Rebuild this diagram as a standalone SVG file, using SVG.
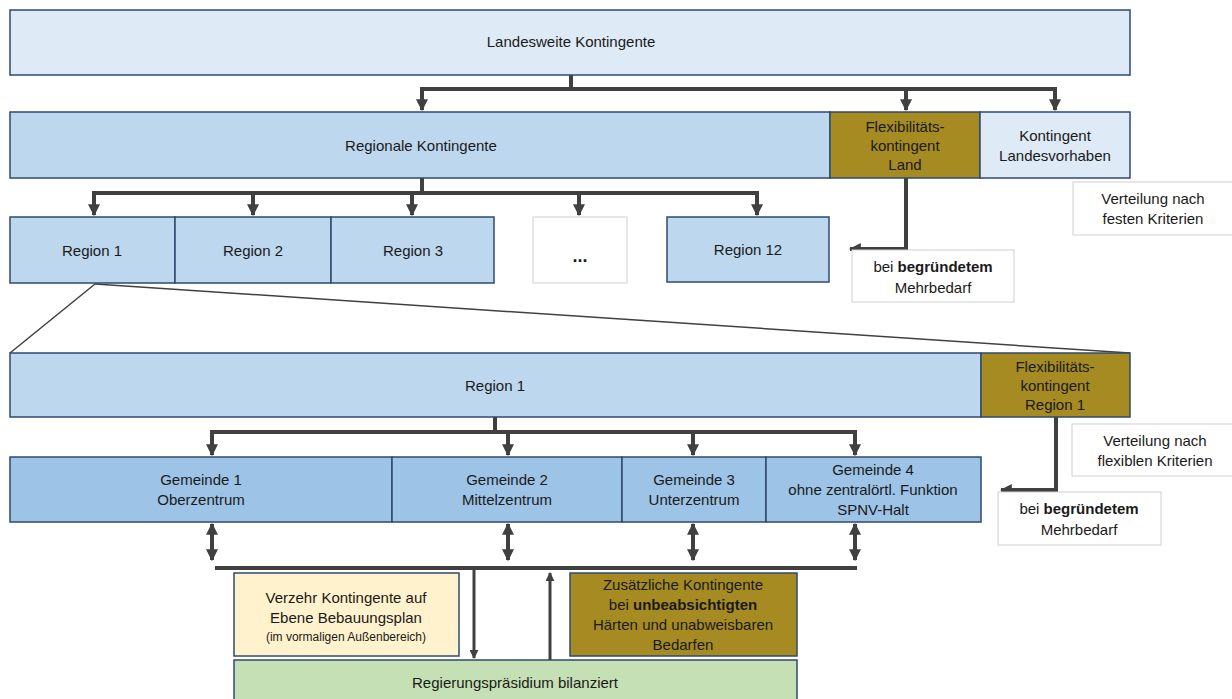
<svg xmlns="http://www.w3.org/2000/svg" width="1232" height="699" viewBox="0 0 1232 699">
<defs>
<style>
text{font-family:"Liberation Sans",Arial,sans-serif;font-size:15px;fill:#1a1a1a;text-anchor:middle}
.b{stroke:#2F4A6E;stroke-width:1.5}
.l1{fill:#DEEAF6}
.l2{fill:#BDD7EE}
.l3{fill:#9DC3E6}
.ol{fill:#A58B22}
.note{fill:#fff;stroke:#D0D0D0;stroke-width:1}
.c{fill:none;stroke:#404040;stroke-width:4}
.t{fill:none;stroke:#404040;stroke-width:1.5}
.sm{font-size:12px}
.bd{font-weight:bold}
</style>
<marker id="ah" viewBox="0 0 10 10" refX="9" refY="5" markerWidth="3" markerHeight="3" orient="auto-start-reverse" markerUnits="strokeWidth">
<path d="M0,0 L10,5 L0,10 z" fill="#404040"/>
</marker>
</defs>

<g id="connectors">
<path class="c" d="M571,75 V89"/>
<path class="c" d="M422,110 V89 H1055 V110" marker-start="url(#ah)" marker-end="url(#ah)"/>
<path class="c" d="M906,89 V110" marker-end="url(#ah)"/>
<path class="c" d="M422,178 V193"/>
<path class="c" d="M94,215 V193 H757 V215" marker-start="url(#ah)" marker-end="url(#ah)"/>
<path class="c" d="M253,193 V215" marker-end="url(#ah)"/>
<path class="c" d="M412,193 V215" marker-end="url(#ah)"/>
<path class="c" d="M579,193 V215" marker-end="url(#ah)"/>
<path class="c" d="M906,178 V249 H850" marker-end="url(#ah)"/>
<path class="t" d="M95,284 L10,353"/>
<path class="t" d="M95,284 L1130,353"/>
<path class="c" d="M495,417 V432"/>
<path class="c" d="M212,455 V432 H855 V455" marker-start="url(#ah)" marker-end="url(#ah)"/>
<path class="c" d="M508,432 V455" marker-end="url(#ah)"/>
<path class="c" d="M693,432 V455" marker-end="url(#ah)"/>
<path class="c" d="M1056,417 V490 H1001" marker-end="url(#ah)"/>
<path class="c" d="M212,524 V560" marker-start="url(#ah)" marker-end="url(#ah)"/>
<path class="c" d="M508,524 V560" marker-start="url(#ah)" marker-end="url(#ah)"/>
<path class="c" d="M693,524 V560" marker-start="url(#ah)" marker-end="url(#ah)"/>
<path class="c" d="M855,524 V560" marker-start="url(#ah)" marker-end="url(#ah)"/>
<path class="c" d="M215,568 H857"/>
<path class="c" style="stroke-width:3" d="M474,570 V658" marker-end="url(#ah)"/>
<path class="c" style="stroke-width:3" d="M550,660 V573" marker-end="url(#ah)"/>
</g>

<g id="landesweite"><rect class="b l1" x="10" y="10" width="1120" height="65"/><text x="571" y="47">Landesweite Kontingente</text></g>
<g id="regionale"><rect class="b l2" x="10" y="112" width="820" height="66"/><text x="421" y="151">Regionale Kontingente</text></g>
<g id="flex-land"><rect class="b ol" x="830" y="112" width="150" height="66"/><text x="905" y="132">Flexibilitäts-</text><text x="905" y="151">kontingent</text><text x="905" y="170">Land</text></g>
<g id="landesvorhaben"><rect class="b l1" x="980" y="112" width="150" height="66"/><text x="1055" y="141">Kontingent</text><text x="1055" y="161">Landesvorhaben</text></g>

<g id="note-fest"><rect class="note" x="1073" y="182" width="165" height="53"/><text x="1153" y="204">Verteilung nach</text><text x="1153" y="224">festen Kriterien</text></g>

<g id="region1"><rect class="b l2" x="10" y="217" width="165" height="66"/><text x="92" y="256">Region 1</text></g>
<g id="region2"><rect class="b l2" x="175" y="217" width="156" height="66"/><text x="253" y="256">Region 2</text></g>
<g id="region3"><rect class="b l2" x="331" y="217" width="163" height="66"/><text x="413" y="256">Region 3</text></g>
<g id="dots"><rect class="note" x="533" y="217" width="94" height="66"/><text x="580" y="262" class="bd" style="font-size:18px">...</text></g>
<g id="region12"><rect class="b l2" x="667" y="217" width="162" height="65"/><text x="748" y="255">Region 12</text></g>

<g id="note-mehr1"><rect class="note" x="852" y="250" width="162" height="52"/><text x="933" y="272">bei <tspan class="bd">begründetem</tspan></text><text x="933" y="293">Mehrbedarf</text></g>

<g id="region1-detail"><rect class="b l2" x="10" y="353" width="971" height="64"/><text x="495" y="391">Region 1</text></g>
<g id="flex-region1"><rect class="b ol" x="981" y="353" width="149" height="64"/><text x="1055" y="372">Flexibilitäts-</text><text x="1055" y="391">kontingent</text><text x="1055" y="410">Region 1</text></g>

<g id="note-flex"><rect class="note" x="1072" y="424" width="165" height="52"/><text x="1155" y="446">Verteilung nach</text><text x="1155" y="466">flexiblen Kriterien</text></g>

<g id="gemeinde1"><rect class="b l3" x="10" y="457" width="382" height="65"/><text x="201" y="485">Gemeinde 1</text><text x="201" y="505">Oberzentrum</text></g>
<g id="gemeinde2"><rect class="b l3" x="392" y="457" width="230" height="65"/><text x="507" y="485">Gemeinde 2</text><text x="507" y="505">Mittelzentrum</text></g>
<g id="gemeinde3"><rect class="b l3" x="622" y="457" width="144" height="65"/><text x="694" y="485">Gemeinde 3</text><text x="694" y="505">Unterzentrum</text></g>
<g id="gemeinde4"><rect class="b l3" x="766" y="457" width="215" height="65"/><text x="873" y="475">Gemeinde 4</text><text x="873" y="495">ohne zentralörtl. Funktion</text><text x="873" y="515">SPNV-Halt</text></g>

<g id="note-mehr2"><rect class="note" x="998" y="492" width="163" height="53"/><text x="1079" y="514">bei <tspan class="bd">begründetem</tspan></text><text x="1079" y="535">Mehrbedarf</text></g>

<g id="verzehr"><rect class="b" style="fill:#FFF2CC" x="234" y="573" width="225" height="83"/><text x="346" y="603">Verzehr Kontingente auf</text><text x="346" y="623">Ebene Bebauungsplan</text><text x="346" y="641" class="sm">(im vormaligen  Außenbereich)</text></g>
<g id="zusaetzlich"><rect class="b ol" x="570" y="573" width="227" height="83"/><text x="683" y="590">Zusätzliche Kontingente</text><text x="683" y="610">bei <tspan class="bd">unbeabsichtigten</tspan></text><text x="683" y="630">Härten und unabweisbaren</text><text x="683" y="650">Bedarfen</text></g>
<g id="rp"><rect class="b" style="fill:#C5E0B4" x="234" y="660" width="563" height="45"/><text x="515" y="688">Regierungspräsidium bilanziert</text></g>
</svg>
